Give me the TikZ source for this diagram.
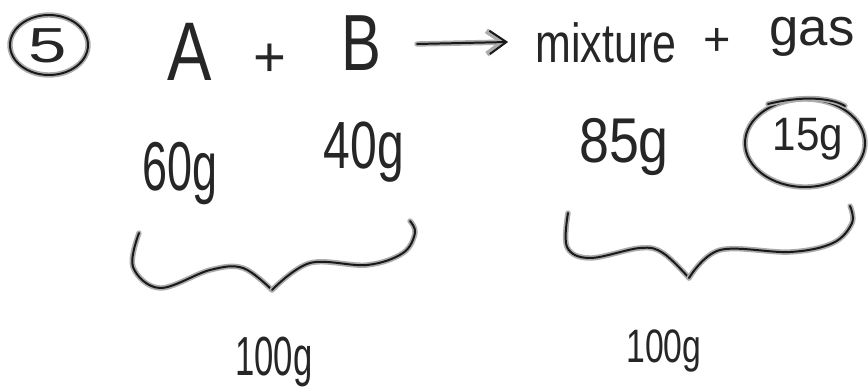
\documentclass[tikz,border=0pt]{standalone}
\usepackage{fontspec}
\setmainfont{Liberation Sans}
\usepackage{tikz}
\usetikzlibrary{arrows.meta}

\tikzset{
	ink/.style={draw=black!90, line width=1.7pt, line cap=round, line join=round,
		preaction={draw=gray!65, line width=4.6pt, line cap=round, line join=round}},
	hand/.style={font=\fontsize{#1}{#1}\selectfont, text=black!85, inner sep=0pt, anchor=base},
}

\begin{document}
\begin{tikzpicture}[x=0.03cm, y=-0.03cm]
		\useasboundingbox (0,0) rectangle (868,391);
		% problem number, circled
		\node[hand=42, xscale=1.4] (five) at (48,62) {5};
		\draw[ink] (49,45) ellipse [x radius=39, y radius=30];
		% reaction: A + B -> mixture + gas
		\node[hand=71, xscale=0.8] (reactA) at (190,80) {A};
		\node[hand=48, anchor=center] (plusL) at (270,60) {+};
		\node[hand=68, xscale=0.75] (reactB) at (361,70) {B};
		\coordinate (arrL) at (417,44);
		\coordinate (arrR) at (508,42);
		\draw[ink, -{Straight Barb[length=5mm, width=7mm]}] (arrL) -- (arrR);
		\node[hand=47, xscale=0.78] (mix) at (606,62) {mixture};
		\node[hand=40, anchor=center] (plusR) at (717,42) {+};
		\node[hand=45] (gas) at (812,45) {gas};
		% masses of the reactants
		\node[hand=59, xscale=0.65] (massA) at (180,190) {60g};
		\node[hand=57, xscale=0.72] (massB) at (364,168) {40g};
		% masses of the products (gas circled)
		\node[hand=54, xscale=0.85] (massMix) at (624,162) {85g};
		\node[hand=40, xscale=0.9] (massGas) at (808,150) {15g};
		\draw[ink] (805,143) ellipse [x radius=60, y radius=44];
		\draw[ink] (768,104) .. controls (800,96) and (830,97) .. (845,106);
		% left brace
		\draw[ink] plot[smooth, tension=0.6] coordinates
			{(139,233) (133,267) (160,288) (210,270) (243,268) (272,290)};
		\draw[ink] plot[smooth, tension=0.6] coordinates
			{(272,290) (310,263) (367,265) (403,253) (415,233) (410,221)};
		% right brace
		\draw[ink] plot[smooth, tension=0.6] coordinates
			{(568,213) (567,247) (590,258) (640,248) (663,253) (689,278)};
		\draw[ink] plot[smooth, tension=0.6] coordinates
			{(689,278) (720,250) (790,252) (833,243) (852,223) (850,206)};
		% totals
		\node[hand=47, xscale=0.63] (totalL) at (274,375) {100g};
		\node[hand=40, xscale=0.72] (totalR) at (664,362) {100g};
	\end{tikzpicture}
\end{document}
